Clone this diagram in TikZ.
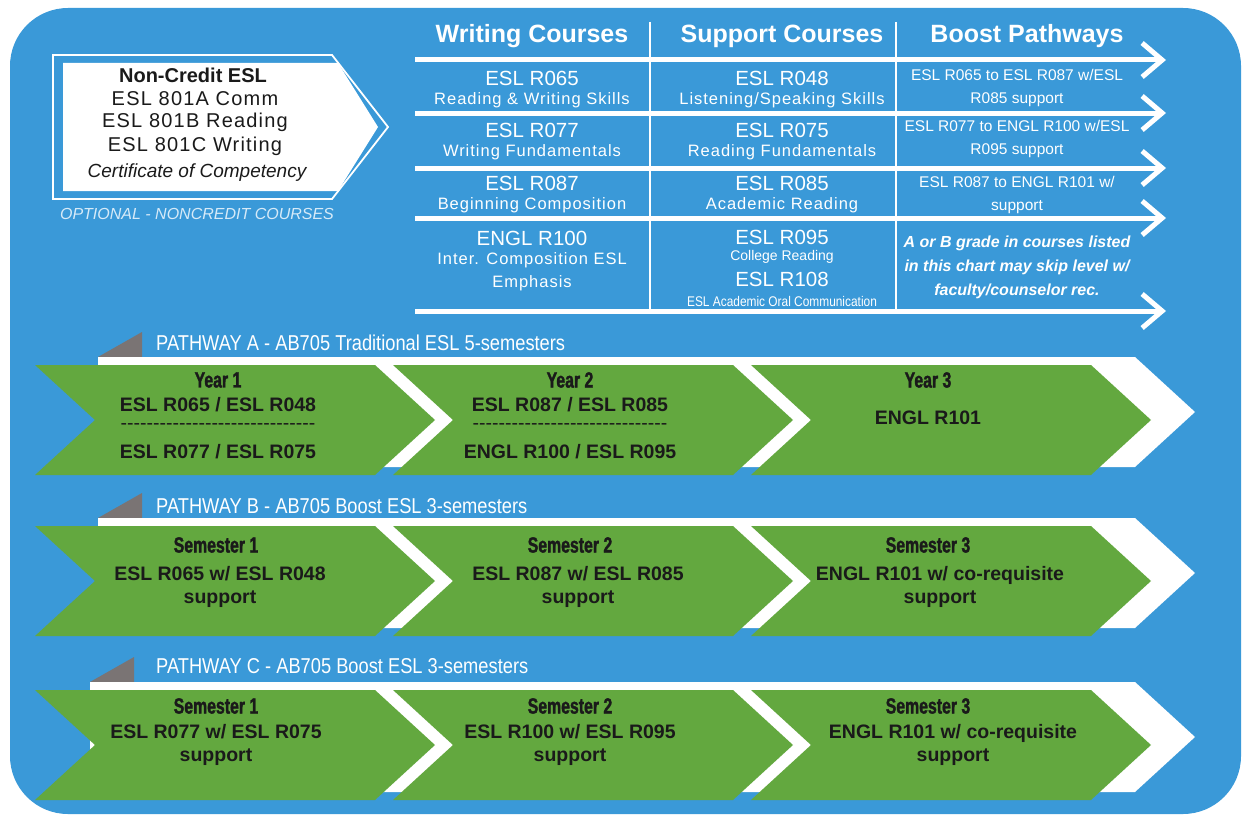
\documentclass[tikz,border=0pt]{standalone}
\usepackage{fontspec}
\setmainfont{Liberation Sans}
\newfontfamily\spacedfont[LetterSpace=6]{Liberation Sans}
\newfontfamily\narrowfont[FakeStretch=0.85]{Liberation Sans}
\newfontfamily\stagefont[FakeStretch=0.72, FakeBold=1.5]{Liberation Sans}
\usetikzlibrary{positioning, arrows.meta, calc}

\definecolor{skyblue}{RGB}{58,153,216}
\definecolor{leafgreen}{RGB}{99,168,63}
\definecolor{tabgray}{RGB}{122,116,116}
\definecolor{paleblue}{RGB}{214,234,248}
\definecolor{inkblack}{RGB}{26,26,26}

\newcommand{\hyphenrow}{\foreach \k in {1,...,30}{-\kern0pt}}

% green stage chevron: left x, top y
\newcommand{\stagechevron}[2]{%
  \fill[leafgreen] (#1,#2) -- ++(340,0) -- ++(60,55) -- ++(-60,55) -- ++(-340,0) -- ++(60,-55) -- cycle;
}
% white pathway band with grey tab: left x, top y
\newcommand{\pathband}[2]{%
  \fill[tabgray] (#1,#2) -- (#1+44,#2-25) -- (#1+44,#2) -- cycle;
  \fill[white] (#1,#2) -- (1135,#2) -- (1195,#2+55) -- (1135,#2+110) -- (#1,#2+110) -- cycle;
}

\begin{document}
\begin{tikzpicture}[
    x=1pt, y=-1pt,
    colhead/.style={text=white, font=\fontsize{25}{25}\selectfont\bfseries, inner sep=0pt},
    coursecode/.style={text=white, font=\fontsize{20.5}{20.5}\selectfont, inner sep=0pt},
    coursename/.style={text=white, font=\spacedfont\fontsize{16.5}{23}\selectfont, inner sep=0pt, align=center},
    smallname/.style={text=white, font=\fontsize{14}{14}\selectfont, inner sep=0pt},
    boostnote/.style={text=white, font=\fontsize{15.5}{23}\selectfont, inner sep=0pt, align=center},
    boxline/.style={text=inkblack, font=\spacedfont\fontsize{20}{20}\selectfont, inner sep=0pt},
    pathlabel/.style={text=white, font=\narrowfont\fontsize{21.5}{21.5}\selectfont, inner sep=0pt, anchor=west},
    stagehead/.style={text=inkblack, font=\stagefont\fontsize{22}{22}\selectfont\bfseries, inner sep=0pt},
    stagetext/.style={text=inkblack, font=\fontsize{19.5}{23.5}\selectfont\bfseries, inner sep=0pt, align=center},
    rowarrow/.style={white, line width=5pt, -{Straight Barb[length=20pt, width=34pt]}}
]
\useasboundingbox (0,0) rectangle (1245,816);
\fill[white] (0,0) rectangle (1245,816);

% Background panel
\fill[skyblue, rounded corners=58] (10,8) rectangle (1241,814);

% Non-credit box
\draw[white, line width=1.8pt] (53,55) -- (332,55) -- (388,127) -- (332,199) -- (53,199) -- cycle;
\fill[white] (63,63) -- (338,63) -- (378,127) -- (338,191) -- (63,191) -- cycle;
\node[boxline, font=\fontsize{20}{20}\selectfont\bfseries] (nc0) at (193,75) {Non-Credit ESL};
\node[boxline] (nc1) at (195,99) {ESL 801A Comm};
\node[boxline] (nc2) at (195,122) {ESL 801B Reading};
\node[boxline] (nc3) at (195,146) {ESL 801C Writing};
\node[boxline, font=\fontsize{19}{19}\selectfont\itshape] (nc4) at (197,173) {Certificate of Competency};
\node[text=paleblue, font=\fontsize{16}{16}\selectfont\itshape, inner sep=0pt] (ncopt) at (197,214) {OPTIONAL - NONCREDIT COURSES};

% Table headers and separators
\node[colhead] (hwrite) at (532,36) {Writing Courses};
\node[colhead] (hsupport) at (782,36) {Support Courses};
\node[colhead] (hboost) at (1027,36) {Boost Pathways};
\draw[white, line width=2pt] (650,22) -- (650,309);
\draw[white, line width=2pt] (896,22) -- (896,309);

\foreach \y [count=\i] in {60,113,168,218,311} {
    \coordinate (sepL\i) at (415,\y);
    \coordinate (sepR\i) at (1166,\y);
    \draw[rowarrow] (sepL\i) -- (sepR\i);
}

% Writing and support courses
\foreach \y/\code/\sub in {78/ESL R065/Reading \& Writing Skills, 130/ESL R077/Writing Fundamentals, 183/ESL R087/Beginning Composition} {
    \node[coursecode] (wcode\y) at (532,\y) {\code};
    \node[coursename] (wname\y) at (532,\y+22) {\sub};
}
\foreach \y/\code/\sub in {78/ESL R048/{Listening/Speaking Skills}, 130/ESL R075/Reading Fundamentals, 183/ESL R085/Academic Reading} {
    \node[coursecode] (scode\y) at (782,\y) {\code};
    \node[coursename] (sname\y) at (782,\y+22) {\sub};
}
\node[coursecode] (wcode238) at (532,238) {ENGL R100};
\node[coursename] (wname238) at (532,272) {Inter. Composition ESL\\Emphasis};
\node[coursecode] (scode237) at (782,237) {ESL R095};
\node[smallname] (sname257) at (782,257) {College Reading};
\node[coursecode] (scode279) at (782,279) {ESL R108};
\node[smallname, font=\narrowfont\fontsize{14}{14}\selectfont] (sname301) at (782,301) {ESL Academic Oral Communication};

% Boost pathways
\node[boostnote] (boost1) at (1017,88) {ESL R065 to ESL R087 w/ESL\\R085 support};
\node[boostnote] (boost2) at (1017,139) {ESL R077 to ENGL R100 w/ESL\\R095 support};
\node[boostnote] (boost3) at (1017,195) {ESL R087 to ENGL R101 w/\\support};
\node[boostnote, font=\fontsize{16}{24}\selectfont\bfseries\itshape] (boost4) at (1017,267) {A or B grade in courses listed\\in this chart may skip level w/\\faculty/counselor rec.};

% Pathway bands and stages
\foreach \lx/\top in {98/357, 98/518, 90/682} {
    \pathband{\lx}{\top}
    \foreach \cx in {35,393,751} {
        \stagechevron{\cx}{\top+8}
    }
}

% Pathway A
\node[pathlabel] (labA) at (156,343) {PATHWAY A - AB705 Traditional ESL 5-semesters};
\node[stagehead] (a1h) at (218,380) {Year 1};
\node[stagetext] (a1t) at (218,405) {ESL R065 / ESL R048};
\node[stagetext, font=\fontsize{19.5}{19.5}\selectfont] (a1d) at (218,427) {\hyphenrow};
\node[stagetext] (a1b) at (218,452) {ESL R077 / ESL R075};
\node[stagehead] (a2h) at (570,380) {Year 2};
\node[stagetext] (a2t) at (570,405) {ESL R087 / ESL R085};
\node[stagetext, font=\fontsize{19.5}{19.5}\selectfont] (a2d) at (570,427) {\hyphenrow};
\node[stagetext] (a2b) at (570,452) {ENGL R100 / ESL R095};
\node[stagehead] (a3h) at (928,380) {Year 3};
\node[stagetext] (a3t) at (928,418) {ENGL R101};

% Pathway B
\node[pathlabel] (labB) at (156,506) {PATHWAY B - AB705 Boost ESL 3-semesters};
\node[stagehead] (b1h) at (216,545) {Semester 1};
\node[stagetext] (b1t) at (220,587) {ESL R065 w/ ESL R048\\support};
\node[stagehead] (b2h) at (570,545) {Semester 2};
\node[stagetext] (b2t) at (578,587) {ESL R087 w/ ESL R085\\support};
\node[stagehead] (b3h) at (928,545) {Semester 3};
\node[stagetext] (b3t) at (940,587) {ENGL R101 w/ co-requisite\\support};

% Pathway C
\node[pathlabel] (labC) at (156,666) {PATHWAY C - AB705 Boost ESL 3-semesters};
\node[stagehead] (c1h) at (216,706) {Semester 1};
\node[stagetext] (c1t) at (216,745) {ESL R077 w/ ESL R075\\support};
\node[stagehead] (c2h) at (570,706) {Semester 2};
\node[stagetext] (c2t) at (570,745) {ESL R100 w/ ESL R095\\support};
\node[stagehead] (c3h) at (928,706) {Semester 3};
\node[stagetext] (c3t) at (953,745) {ENGL R101 w/ co-requisite\\support};

\end{tikzpicture}
\end{document}
